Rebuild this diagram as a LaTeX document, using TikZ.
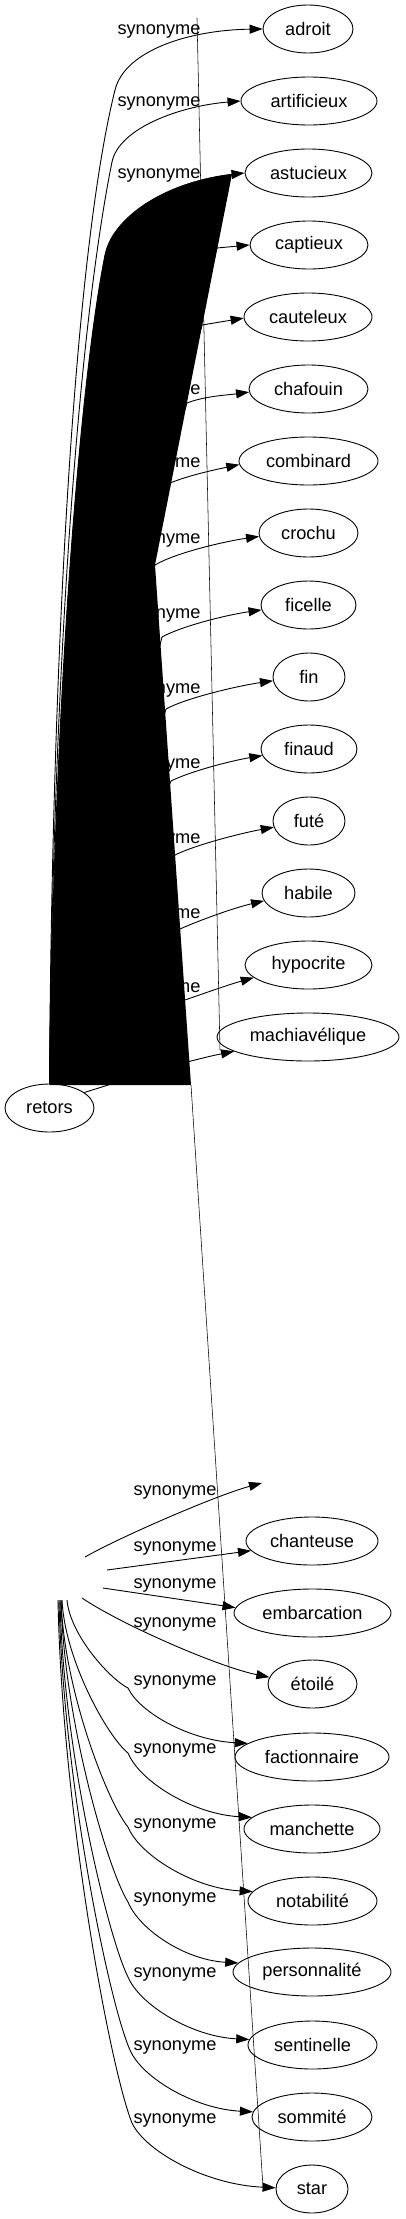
\documentclass[tikz,border=0pt]{standalone}
\usepackage{fontspec}
\setmainfont{Liberation Sans}
\usetikzlibrary{shapes.geometric,arrows.meta}
\begin{document}
\begin{tikzpicture}[x=1pt,y=-1pt,
  word/.style={ellipse,draw,line width=0.9pt,inner sep=0pt,minimum height=48pt,font=\fontsize{18.2}{22}\selectfont},
  lbl/.style={inner sep=0pt,font=\fontsize{18.2}{22}\selectfont},
  syn/.style={line width=0.9pt,-{Triangle[length=13pt,width=9pt]}},
  hair/.style={line width=0.55pt}]
\useasboundingbox (0,0) rectangle (405,2219);
% nodes
\node[word,minimum width=89pt] (retors) at (49.5,1108) {retors};
\node[word,minimum width=90pt] (adroit) at (308,29) {adroit};
\node[word,minimum width=136pt] (artificieux) at (309,101) {artificieux};
\node[word,minimum width=127pt] (astucieux) at (308.5,173) {astucieux};
\node[word,minimum width=118pt] (captieux) at (309,245) {captieux};
\node[word,minimum width=128pt] (cauteleux) at (308,317) {cauteleux};
\node[word,minimum width=119pt] (chafouin) at (308.5,389) {chafouin};
\node[word,minimum width=139pt] (combinard) at (308.5,461) {combinard};
\node[word,minimum width=99pt] (crochu) at (308.5,533) {crochu};
\node[word,minimum width=95pt] (ficelle) at (308.5,605) {ficelle};
\node[word,minimum width=72pt] (fin) at (309,677) {fin};
\node[word,minimum width=96pt] (finaud) at (309,749) {finaud};
\node[word,minimum width=72pt] (fute) at (309,821) {futé};
\node[word,minimum width=93pt] (habile) at (308.5,893) {habile};
\node[word,minimum width=127pt] (hypocrite) at (308.5,965) {hypocrite};
\node[word,minimum width=182pt] (machia) at (308,1037) {machiavélique};
\node[word,minimum width=132pt] (chanteuse) at (312,1541) {chanteuse};
\node[word,minimum width=157pt] (embarcation) at (312.5,1613) {embarcation};
\node[word,minimum width=89pt] (etoile) at (312.5,1684) {étoilé};
\node[word,minimum width=154pt] (factionnaire) at (312,1757) {factionnaire};
\node[word,minimum width=136pt] (manchette) at (312,1829) {manchette};
\node[word,minimum width=129pt] (notabilite) at (312.5,1901) {notabilité};
\node[word,minimum width=158pt] (personnalite) at (312,1972) {personnalité};
\node[word,minimum width=129pt] (sentinelle) at (312.5,2045) {sentinelle};
\node[word,minimum width=120pt] (sommite) at (312,2117) {sommité};
\node[word,minimum width=72pt] (star) at (312,2189) {star};
% top edges
\draw[syn] (retors.north) .. controls (52,650) and (75,250) .. (115,90) .. controls (125,50) and (190,30) .. (adroit.west);
\draw[syn] (retors.north) .. controls (53,680) and (78,330) .. (112,162) .. controls (119,128) and (180,106) .. (artificieux.west);
\draw[syn] (retors.north) .. controls (54,700) and (80,380) .. (105,255) .. controls (112.5,217.5) and (165,182) .. (astucieux.west);
\draw[syn] (retors.north) -- (110,640) -- (217,248) -- (captieux.west);
\draw[syn] (retors.north) -- (110,640) -- (202,325) -- (cauteleux.181);
\draw[syn] (retors.north) -- (110,640) -- (187,403) .. controls +(18,-7) and +(-22,3) .. (chafouin.183);
\draw[syn] (retors.north) -- (110,640) -- (170,483) .. controls +(20,-8) and +(-24,5) .. (combinard.183);
\draw[syn] (retors.north) -- (110,640) -- (155,565) .. controls +(20,-12) and +(-35,5) .. (crochu.184);
\draw[syn] (retors.north) -- (162,637) .. controls +(20,-11) and +(-35,5) .. (ficelle.186);
\draw[syn] (retors.north) -- (166,709) .. controls +(20,-11) and +(-35,5) .. (fin.186);
\draw[syn] (retors.north) -- (171,781) .. controls +(20,-10) and +(-30,5) .. (finaud.188);
\draw[syn] (retors.north) -- (175,855) .. controls +(20,-10) and +(-33,6) .. (fute.190);
\draw[syn] (retors.north) -- (180,929) .. controls +(20,-9) and +(-30,7) .. (habile.190);
\draw[syn] (retors.55) .. controls (100,1040) and (150,1010) .. (185,1000) .. controls +(20,-7) and +(-25,7) .. (hypocrite.193);
\draw[syn] (retors.24) .. controls (130,1078) and (190,1060) .. (machia.191);
% top labels
\foreach \y in {31,103,175,247,319,391,464,540,615,690,765,840,915,989}
  \node[lbl] at (159,\y) {synonyme};
\node[lbl] at (145,1060) {synonyme};
% bottom edges
\coordinate (s1) at (85,1557);
\coordinate (s2) at (107,1570);
\coordinate (s3) at (103,1588);
\coordinate (s4) at (82,1598);
\coordinate (s5) at (67,1600);
\coordinate (s6) at (62,1600);
\coordinate (s7) at (61,1600);
\coordinate (s9) at (60,1600);
\coordinate (s10) at (59,1600);
\coordinate (s11) at (58,1600);
\coordinate (blank) at (262,1483);
\draw[syn] (s1) .. controls +(35,-20) and +(-45,12) .. (blank);
\draw[syn] (s2) -- (chanteuse.189);
\draw[syn] (s3) -- (embarcation.176);
\draw[syn] (s4) .. controls +(40,27) and +(-50,-10) .. (etoile.171);
\draw[syn] (s5) .. controls +(3,35) and +(-18,-9) .. (128,1688) .. controls +(12,25) and +(-58,-3) .. (factionnaire.168);
\draw[syn] (s6) .. controls +(3,61) and +(-20,-16) .. (128,1753) .. controls +(12,29) and +(-58,-3) .. (manchette.169);
\draw[syn] (s7) .. controls +(3,91) and +(-20,-24) .. (128,1827) .. controls +(12,29) and +(-58,-3) .. (notabilite.171);
\draw[syn] (s7) .. controls +(3,121) and +(-20,-32) .. (128,1902) .. controls +(11,27) and +(-54,-3) .. (personnalite.173);
\draw[syn] (s9) .. controls +(3,151) and +(-20,-40) .. (128,1977) .. controls +(12,28) and +(-58,-3) .. (sentinelle.175);
\draw[syn] (s10) .. controls +(4,180) and +(-21,-47) .. (130,2050) .. controls +(12,28) and +(-58,-3) .. (sommite.175);
\draw[syn] (s11) .. controls +(4,209) and +(-22,-55) .. (132,2123) .. controls +(14,29) and +(-69,-3) .. (star.178);
% bottom labels
\foreach \y in {1492,1548,1585,1624,1682,1750,1825,1899,1974,2047,2120}
  \node[lbl] at (175,\y) {synonyme};
% black artefact
\fill[black] (49.5,1085) .. controls (54,700) and (80,380) .. (105,255) .. controls (112.5,217.5) and (165,182) .. (232,174) -- (155,565) -- (191,1085) -- cycle;
% thin lines
\coordinate (l1a) at (197,18);
\coordinate (l1b) at (220,1050);
\coordinate (l2a) at (191,1085);
\coordinate (l2b) at (263,2187);
\draw[hair] (l1a) -- (l1b);
\draw[hair] (l2a) -- (l2b);
\end{tikzpicture}
\end{document}
